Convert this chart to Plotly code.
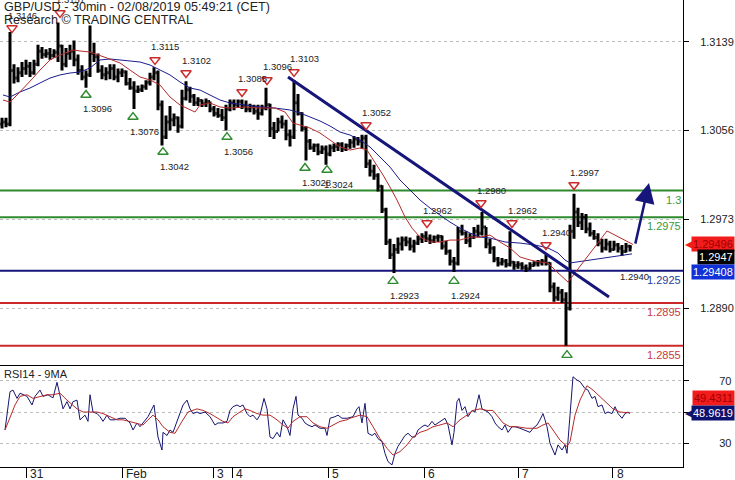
import plotly.graph_objects as go

# ---------------- data ----------------
# hourly bars, index = hours from chart start
bar_index = list(range(158))
opens = [1.3062, 1.3064, 1.3062, 1.3112, 1.3105, 1.3110, 1.3114, 1.3116, 1.3110, 1.3118,
         1.3130, 1.3127, 1.3128, 1.3126, 1.3129, 1.3135, 1.3118, 1.3128, 1.3130, 1.3122,
         1.3112, 1.3106, 1.3108, 1.3128, 1.3125, 1.3112, 1.3108, 1.3110, 1.3114, 1.3106,
         1.3110, 1.3111, 1.3100, 1.3096, 1.3093, 1.3094, 1.3097, 1.3101, 1.3106, 1.3110,
         1.3080, 1.3050, 1.3064, 1.3066, 1.3068, 1.3060, 1.3086, 1.3094, 1.3088, 1.3082,
         1.3084, 1.3081, 1.3083, 1.3076, 1.3072, 1.3070, 1.3068, 1.3076, 1.3082, 1.3080,
         1.3083, 1.3079, 1.3076, 1.3078, 1.3074, 1.3072, 1.3077, 1.3080, 1.3058, 1.3055,
         1.3064, 1.3062, 1.3052, 1.3050, 1.3082, 1.3072, 1.3058, 1.3046, 1.3040, 1.3042,
         1.3036, 1.3039, 1.3034, 1.3040, 1.3041, 1.3043, 1.3039, 1.3042, 1.3045, 1.3048,
         1.3046, 1.3049, 1.3025, 1.3018, 1.3014, 1.3004, 1.2982, 1.2952, 1.2940, 1.2945,
         1.2950, 1.2954, 1.2952, 1.2948, 1.2951, 1.2955, 1.2957, 1.2955, 1.2953, 1.2956,
         1.2957, 1.2948, 1.2943, 1.2934, 1.2932, 1.2962, 1.2960, 1.2953, 1.2956, 1.2962,
         1.2960, 1.2966, 1.2950, 1.2946, 1.2936, 1.2932, 1.2934, 1.2931, 1.2933, 1.2930,
         1.2931, 1.2928, 1.2927, 1.2930, 1.2932, 1.2933, 1.2934, 1.2932, 1.2910, 1.2900,
         1.2905, 1.2898, 1.2890, 1.2962, 1.2980, 1.2970, 1.2975, 1.2964, 1.2960, 1.2956,
         1.2951, 1.2946, 1.2950, 1.2945, 1.2949, 1.2946, 1.2943, 1.2948]
highs = [1.3068, 1.3068, 1.3148, 1.3118, 1.3115, 1.3120, 1.3122, 1.3120, 1.3122, 1.3136,
         1.3134, 1.3132, 1.3133, 1.3132, 1.3157, 1.3136, 1.3133, 1.3136, 1.3140, 1.3127,
         1.3117, 1.3112, 1.3154, 1.3138, 1.3128, 1.3117, 1.3115, 1.3118, 1.3118, 1.3114,
         1.3114, 1.3112, 1.3105, 1.3102, 1.3098, 1.3099, 1.3103, 1.3110, 1.3115, 1.3112,
         1.3084, 1.3070, 1.3079, 1.3072, 1.3069, 1.3094, 1.3102, 1.3097, 1.3090, 1.3087,
         1.3085, 1.3086, 1.3083, 1.3079, 1.3077, 1.3076, 1.3080, 1.3085, 1.3085, 1.3085,
         1.3085, 1.3084, 1.3081, 1.3080, 1.3080, 1.3080, 1.3096, 1.3081, 1.3064, 1.3068,
         1.3070, 1.3066, 1.3057, 1.3103, 1.3090, 1.3073, 1.3060, 1.3048, 1.3044, 1.3044,
         1.3042, 1.3042, 1.3043, 1.3044, 1.3045, 1.3045, 1.3044, 1.3048, 1.3051, 1.3050,
         1.3052, 1.3052, 1.3029, 1.3024, 1.3016, 1.3005, 1.2984, 1.2955, 1.2950, 1.2956,
         1.2957, 1.2957, 1.2956, 1.2954, 1.2958, 1.2960, 1.2962, 1.2959, 1.2958, 1.2959,
         1.2958, 1.2953, 1.2945, 1.2938, 1.2966, 1.2968, 1.2962, 1.2960, 1.2966, 1.2968,
         1.2980, 1.2966, 1.2955, 1.2948, 1.2938, 1.2937, 1.2936, 1.2962, 1.2934, 1.2934,
         1.2933, 1.2931, 1.2933, 1.2934, 1.2935, 1.2936, 1.2940, 1.2933, 1.2914, 1.2910,
         1.2908, 1.2905, 1.2968, 1.2997, 1.2984, 1.2979, 1.2978, 1.2970, 1.2963, 1.2960,
         1.2955, 1.2955, 1.2953, 1.2953, 1.2951, 1.2949, 1.2951, 1.2949]
lows = [1.3058, 1.3059, 1.3060, 1.3100, 1.3101, 1.3106, 1.3108, 1.3106, 1.3108, 1.3116,
        1.3123, 1.3124, 1.3122, 1.3124, 1.3120, 1.3112, 1.3115, 1.3122, 1.3116, 1.3108,
        1.3103, 1.3096, 1.3106, 1.3120, 1.3110, 1.3104, 1.3103, 1.3104, 1.3103, 1.3101,
        1.3106, 1.3098, 1.3094, 1.3076, 1.3091, 1.3092, 1.3094, 1.3098, 1.3103, 1.3075,
        1.3042, 1.3048, 1.3056, 1.3060, 1.3054, 1.3058, 1.3084, 1.3082, 1.3079, 1.3079,
        1.3078, 1.3078, 1.3073, 1.3069, 1.3068, 1.3065, 1.3056, 1.3074, 1.3075, 1.3077,
        1.3076, 1.3073, 1.3073, 1.3071, 1.3066, 1.3070, 1.3075, 1.3050, 1.3048, 1.3055,
        1.3058, 1.3047, 1.3041, 1.3048, 1.3070, 1.3055, 1.3028, 1.3038, 1.3036, 1.3033,
        1.3034, 1.3024, 1.3032, 1.3036, 1.3037, 1.3036, 1.3037, 1.3039, 1.3040, 1.3042,
        1.3039, 1.3021, 1.3013, 1.3010, 1.2999, 1.2979, 1.2949, 1.2936, 1.2923, 1.2941,
        1.2944, 1.2948, 1.2944, 1.2942, 1.2949, 1.2951, 1.2952, 1.2950, 1.2951, 1.2952,
        1.2945, 1.2940, 1.2930, 1.2924, 1.2930, 1.2958, 1.2950, 1.2947, 1.2955, 1.2956,
        1.2958, 1.2946, 1.2941, 1.2933, 1.2929, 1.2930, 1.2928, 1.2929, 1.2926, 1.2927,
        1.2926, 1.2924, 1.2926, 1.2929, 1.2929, 1.2930, 1.2930, 1.2905, 1.2896, 1.2897,
        1.2895, 1.2855, 1.2888, 1.2955, 1.2966, 1.2963, 1.2960, 1.2957, 1.2954, 1.2948,
        1.2942, 1.2944, 1.2942, 1.2944, 1.2942, 1.2939, 1.2942, 1.2943]
closes = [1.3064, 1.3062, 1.3112, 1.3105, 1.3110, 1.3114, 1.3116, 1.3110, 1.3118, 1.3130,
          1.3127, 1.3128, 1.3126, 1.3129, 1.3135, 1.3118, 1.3128, 1.3130, 1.3122, 1.3112,
          1.3106, 1.3108, 1.3128, 1.3125, 1.3112, 1.3108, 1.3110, 1.3114, 1.3106, 1.3110,
          1.3111, 1.3100, 1.3096, 1.3093, 1.3094, 1.3097, 1.3101, 1.3106, 1.3110, 1.3080,
          1.3050, 1.3064, 1.3066, 1.3068, 1.3060, 1.3086, 1.3094, 1.3088, 1.3082, 1.3084,
          1.3081, 1.3083, 1.3076, 1.3072, 1.3070, 1.3068, 1.3076, 1.3082, 1.3080, 1.3083,
          1.3079, 1.3076, 1.3078, 1.3074, 1.3072, 1.3077, 1.3080, 1.3058, 1.3055, 1.3064,
          1.3062, 1.3052, 1.3050, 1.3082, 1.3072, 1.3058, 1.3046, 1.3040, 1.3042, 1.3036,
          1.3039, 1.3034, 1.3040, 1.3041, 1.3043, 1.3039, 1.3042, 1.3045, 1.3048, 1.3046,
          1.3049, 1.3025, 1.3018, 1.3014, 1.3004, 1.2982, 1.2952, 1.2940, 1.2945, 1.2950,
          1.2954, 1.2952, 1.2948, 1.2951, 1.2955, 1.2957, 1.2955, 1.2953, 1.2956, 1.2957,
          1.2948, 1.2943, 1.2934, 1.2932, 1.2962, 1.2960, 1.2953, 1.2956, 1.2962, 1.2960,
          1.2966, 1.2950, 1.2946, 1.2936, 1.2932, 1.2934, 1.2931, 1.2933, 1.2930, 1.2931,
          1.2928, 1.2927, 1.2930, 1.2932, 1.2933, 1.2934, 1.2932, 1.2910, 1.2900, 1.2905,
          1.2898, 1.2890, 1.2962, 1.2980, 1.2970, 1.2975, 1.2964, 1.2960, 1.2956, 1.2951,
          1.2946, 1.2950, 1.2945, 1.2949, 1.2946, 1.2943, 1.2948, 1.2947]

# moving averages (hour position, price)
ma_fast_pts = [(0.25, 1.30845), (2, 1.30826), (3.75, 1.30892), (6.25, 1.30985), (7.75, 1.31050),
               (9.5, 1.31125), (12, 1.31219), (14.5, 1.31265), (17.75, 1.31312), (19.5, 1.31303),
               (22, 1.31293), (26.25, 1.31237), (29.5, 1.31191), (32, 1.31125), (34.5, 1.31060),
               (37, 1.31032), (39.5, 1.30985), (42, 1.30873), (44.5, 1.30798), (48.25, 1.30733),
               (49.5, 1.30798), (52, 1.30817), (54.5, 1.30780), (57, 1.30770), (60.75, 1.30780),
               (64.5, 1.30770), (68.25, 1.30770), (70.75, 1.30733), (72.75, 1.30630), (74.5, 1.30611),
               (77, 1.30583), (79.5, 1.30537), (82, 1.30471), (84.5, 1.30406), (87, 1.30378),
               (89.5, 1.30397), (91.25, 1.30378), (93.25, 1.30266), (95.25, 1.30145), (97, 1.30032),
               (98.75, 1.29911), (100.75, 1.29752), (102.5, 1.29649), (104.5, 1.29565), (107, 1.29519),
               (109.5, 1.29519), (112, 1.29537), (114.5, 1.29537), (117, 1.29565), (119.5, 1.29565),
               (122, 1.29584), (124.5, 1.29519), (127, 1.29463), (129.5, 1.29379), (132, 1.29351),
               (134.5, 1.29332), (136.5, 1.29323), (138.25, 1.29257), (140, 1.29192), (141.5, 1.29145),
               (151.25, 1.29622), (157.75, 1.29496)]
ma_slow_pts = [(0.25, 1.30892), (2, 1.30873), (4.5, 1.30920), (7, 1.30957), (9.5, 1.31004),
               (12, 1.31050), (14.5, 1.31079), (17, 1.31097), (19.5, 1.31107), (22, 1.31144),
               (24.5, 1.31219), (27, 1.31228), (29.5, 1.31219), (32, 1.31209), (34.5, 1.31200),
               (37, 1.31172), (39.5, 1.31125), (42, 1.31079), (44.5, 1.31013), (47, 1.30957),
               (49.5, 1.30938), (52, 1.30892), (54.5, 1.30845), (57, 1.30817), (60.75, 1.30798),
               (64.5, 1.30780), (68.25, 1.30770), (72, 1.30752), (74.5, 1.30724), (77, 1.30686),
               (79.5, 1.30649), (82, 1.30602), (84.5, 1.30546), (87, 1.30518), (89.5, 1.30471),
               (92, 1.30406), (94.5, 1.30312), (97, 1.30219), (99.5, 1.30098), (102, 1.30004),
               (104.5, 1.29911), (107, 1.29836), (109.5, 1.29771), (112, 1.29705), (114.5, 1.29649),
               (117, 1.29603), (119.5, 1.29565), (122, 1.29556), (125.75, 1.29519), (129.5, 1.29509),
               (133.25, 1.29491), (136.5, 1.29463), (139, 1.29416), (140.75, 1.29351), (142, 1.29323),
               (157.5, 1.29408)]

# RSI14 and its 9MA (hour position, value)
rsi_pts = [(0.75, 38.5), (2, 63), (2.75, 64), (3.75, 58.7), (4.5, 62), (5.25, 61), (6.25, 60),
           (7.5, 54.5), (8.25, 60), (9.5, 64), (10.25, 60), (11.5, 61), (12.75, 59), (13.75, 69),
           (14.5, 61), (15.25, 52), (16.25, 56.6), (17, 52), (17.75, 56.6), (18.75, 57.6), (19.5, 45),
           (20.75, 48), (21.5, 44), (22, 61), (22.75, 50), (23.75, 49), (24.5, 47), (25.25, 44),
           (26.25, 48), (27, 45), (28.25, 45), (29.5, 46), (30.75, 46), (32, 43), (32.75, 38.5),
           (33.75, 43), (34.5, 40.6), (35.25, 43), (36.5, 47), (37.5, 52), (38, 54.5), (38.5, 44),
           (39, 34), (40, 25.7), (40.25, 37), (41.25, 35), (42, 38.5), (42.75, 37), (43.75, 44),
           (44.5, 50), (45.25, 54.5), (46.25, 57.6), (47, 52), (47.75, 49), (48.75, 50), (49.5, 49),
           (50.75, 50), (52, 47), (53.25, 41.7), (54, 43), (55.25, 43), (56.25, 44), (57, 51),
           (57.75, 53.4), (58.75, 54.5), (59.5, 53.4), (60.25, 54.5), (61.25, 49), (62, 47),
           (62.75, 48), (63.75, 45), (64.5, 48), (65.5, 58.7), (66.25, 52), (67, 34), (67.75, 33),
           (68.75, 37), (69.5, 34), (70.25, 45), (71.25, 40.6), (72, 35), (72.75, 52), (73.5, 60),
           (74, 48), (75, 46), (75.75, 43), (76.5, 41.7), (77.5, 40.6), (78.25, 41.7), (79.5, 39.6),
           (80.75, 39.6), (81.25, 35), (82, 46), (83.25, 47), (84, 48), (85, 46), (86.25, 46),
           (87.75, 47), (88.75, 52), (89.25, 53.4), (90, 43), (90.75, 55.5), (91.25, 43), (91.5, 36.4),
           (92.5, 35), (93.25, 36.4), (94, 33), (95, 31), (95.75, 23.6), (96.5, 18.3), (97.5, 16.2),
           (98.25, 23.6), (99, 28), (100, 32), (100.75, 35), (101.5, 36.4), (102.5, 34), (103.25, 34),
           (104, 38.5), (105, 40.6), (105.75, 41.7), (106.5, 40.6), (107.5, 44), (108.25, 41.7),
           (109, 43), (110, 45), (110.75, 46), (111.5, 41.7), (112.5, 29), (113, 37), (113.75, 56.6),
           (114.25, 58.7), (115, 51), (115.75, 53.4), (116.5, 47), (117.5, 51), (118.25, 50),
           (119.25, 61), (120, 52), (120.75, 51), (121.5, 50), (122.5, 47), (123.25, 43), (124, 40.6),
           (125, 38.5), (125.75, 41.7), (126.5, 37), (127.5, 40.6), (128.25, 40.6), (129.5, 39.6),
           (130.75, 38.5), (132, 37), (132.75, 39.6), (133.75, 41.7), (134.5, 45), (135.25, 49),
           (135.75, 45), (136.25, 40.6), (137, 30), (137.75, 25.7), (138.25, 22.5), (139, 29),
           (140, 25.7), (140.75, 29), (141.25, 23.6), (142, 48), (142.75, 72.5), (143.75, 70.4),
           (144.5, 69.4), (145.75, 65), (146.5, 64), (147.5, 58.7), (148.25, 60), (149, 53.4),
           (150, 54.5), (150.75, 49), (151.5, 50), (152.5, 49), (153.25, 53.4), (154, 49), (155, 46),
           (155.75, 49), (156.5, 50), (157, 48.96)]
rsi_ma_pts = [(0.75, 38.5), (2, 46), (3.25, 54.5), (4.5, 60), (6.25, 61), (7.75, 58.7), (9.5, 60),
              (11.25, 61), (12.75, 61), (14.5, 62), (16.25, 57.6), (17.5, 54.5), (18.75, 52),
              (20.25, 50), (22, 50), (23.75, 50), (25.25, 49), (27, 47), (28.75, 45), (30.25, 45),
              (32, 44), (33.75, 43), (35.25, 41.7), (36.5, 45), (37.75, 48), (39, 45), (40.25, 40.6),
              (42, 37), (43.25, 36.4), (45, 44), (46.5, 50), (48.75, 52), (50.25, 51), (52, 49),
              (53.75, 46), (55.25, 44), (56.5, 43), (57.75, 47), (59.5, 50), (60.75, 52), (62, 51),
              (63.75, 49), (65.25, 48), (67, 48), (68.75, 45), (70.25, 41.7), (71.5, 39.6),
              (72.75, 44), (74.5, 47), (76.25, 47), (77.75, 43), (79.5, 40.6), (81.25, 39.6),
              (82.75, 41.7), (84.5, 44), (86.25, 45), (87, 46), (89.5, 48), (91.25, 47), (92.75, 40.6),
              (94.5, 33), (96.25, 26.8), (97.75, 22.5), (99.5, 24.7), (101.25, 29), (102.75, 34),
              (104.5, 37), (106.25, 38.5), (107.75, 40.6), (109.5, 41.7), (111.25, 43), (112.75, 40.6),
              (114.5, 45), (116.25, 48), (117.75, 51), (119.5, 52), (121.25, 51), (122.75, 51),
              (124, 47), (125.25, 43), (127, 40.6), (128.75, 40.6), (131.25, 39.6), (133.75, 39.6),
              (135.25, 41.7), (136.5, 43), (137.75, 38.5), (139.5, 32), (141.25, 28), (142, 31),
              (143.25, 48), (144.5, 57.6), (146.25, 66.8), (147.75, 64), (149.5, 59.8), (151.25, 55.5),
              (152.75, 52), (154.5, 50), (156.25, 49.6), (157, 49.43)]

# day boundaries on the time axis
day_ticks = [6, 30, 52.75, 57.5, 81.5, 105.5, 129, 152.65]
day_labels = ["31", "Feb", "3", "4", "5", "6", "7", "8"]

price_ticks = [1.2890, 1.2973, 1.3056, 1.3139]
rsi_ticks = [30, 50, 70]
rsi_tick_labels = ["30", "", "70"]

# support / resistance levels
levels = [1.3000, 1.2975, 1.2925, 1.2895, 1.2855]
level_labels = ["1.3", "1.2975", "1.2925", "1.2895", "1.2855"]

# trend line (start, end) and projection arrow
trend_x = [71.5, 151.75]
trend_y = [1.3106, 1.29005]
arrow_x = [158.25, 161.75]
arrow_y = [1.2949, 1.3007]
support_x, support_y, support_text = 158, 1.2920, "1.2940"

# pivot highs / lows: marker position and label
peak_x = [2.5, 14.5, 38.25, 46, 60, 66.25, 73, 91, 106.25, 119.75, 127.5, 136, 143]
peak_y = [1.31517, 1.31658, 1.31219, 1.31097, 1.30920, 1.31032, 1.31107, 1.30611,
          1.29696, 1.29883, 1.29696, 1.29491, 1.30051]
peak_text = ["1.3146", "1.3157", "1.3115", "1.3102", "1.3085", "1.3096", "1.3103", "1.3052",
             "1.2962", "1.2980", "1.2962", "1.2940", "1.2997"]
trough_x = [21, 32.75, 40.25, 56.25, 75.75, 81.25, 97.75, 113, 141.25]
trough_y = [1.30892, 1.30686, 1.30359, 1.30499, 1.30210, 1.30191, 1.29154, 1.29154, 1.28463]
trough_text = ["1.3096", "1.3076", "1.3042", "1.3056", "1.3028", "1.3024", "1.2923", "1.2924", ""]

# last values
last_ma_fast, last_price, last_ma_slow = 1.29496, 1.2947, 1.29408
last_rsi_ma, last_rsi = 49.4311, 48.9619

# ---------------- styling ----------------
FONT = "Liberation Sans, Arial, sans-serif"
GREEN = "#2e8a2e"
RED = "#cc2a2a"
NAVY = "#15157a"
BLUE_MA = "#1c1c8e"
RED_MA = "#b52a2a"
level_colors = [GREEN, GREEN, NAVY, RED, RED]
level_text_colors = ["#3a9a3a", "#3a9a3a", "#2a3a9a", "#c83a3a", "#c83a3a"]

MAIN_BOTTOM = 101 / 467.0
X_RANGE = [-0.5, 170.25]

fig = go.Figure()

fig.add_trace(go.Ohlc(
    x=bar_index, open=opens, high=highs, low=lows, close=closes,
    increasing=dict(line=dict(color="black", width=3)),
    decreasing=dict(line=dict(color="black", width=3)),
    tickwidth=0.45, hoverinfo="skip", xaxis="x", yaxis="y"))

fig.add_trace(go.Scatter(x=[p[0] for p in ma_slow_pts], y=[p[1] for p in ma_slow_pts],
                         mode="lines", line=dict(color=BLUE_MA, width=1), xaxis="x", yaxis="y"))
fig.add_trace(go.Scatter(x=[p[0] for p in ma_fast_pts], y=[p[1] for p in ma_fast_pts],
                         mode="lines", line=dict(color=RED_MA, width=1), xaxis="x", yaxis="y"))

fig.add_trace(go.Scatter(x=trend_x, y=trend_y, mode="lines",
                         line=dict(color=NAVY, width=3), xaxis="x", yaxis="y"))

fig.add_trace(go.Scatter(x=peak_x, y=peak_y, mode="markers",
                         marker=dict(symbol="triangle-down-open", size=9,
                                     color=RED, line=dict(color=RED, width=1.4)),
                         xaxis="x", yaxis="y"))
fig.add_trace(go.Scatter(x=trough_x, y=trough_y, mode="markers",
                         marker=dict(symbol="triangle-up-open", size=9,
                                     color=GREEN, line=dict(color=GREEN, width=1.4)),
                         xaxis="x", yaxis="y"))

fig.add_trace(go.Scatter(x=[p[0] for p in rsi_pts], y=[p[1] for p in rsi_pts], mode="lines",
                         line=dict(color="#161670", width=1), xaxis="x2", yaxis="y2"))
fig.add_trace(go.Scatter(x=[p[0] for p in rsi_ma_pts], y=[p[1] for p in rsi_ma_pts], mode="lines",
                         line=dict(color=RED_MA, width=1), xaxis="x2", yaxis="y2"))

shapes = []
for lv, col in zip(levels, level_colors):
    shapes.append(dict(type="line", xref="x domain", yref="y", x0=0, x1=1, y0=lv, y1=lv,
                       line=dict(color=col, width=2), layer="below"))

ann = []
# title
ann.append(dict(xref="paper", yref="paper", x=0, y=1, xshift=2, yshift=-7, xanchor="left",
                yanchor="middle", showarrow=False,
                text="GBP/USD - 30min - 02/08/2019 05:49:21 (CET)",
                font=dict(size=12.6, color="#222")))
ann.append(dict(xref="paper", yref="paper", x=0, y=1, xshift=2, yshift=-20, xanchor="left",
                yanchor="middle", showarrow=False, text="Research © TRADING CENTRAL",
                font=dict(size=12.6, color="#222")))
ann.append(dict(xref="paper", yref="paper", x=0, y=MAIN_BOTTOM, xshift=2, yshift=-8,
                xanchor="left", yanchor="middle", showarrow=False, text="RSI14 - 9MA",
                font=dict(size=11, color="#222")))

# level labels
for lv, txt, col in zip(levels, level_labels, level_text_colors):
    ann.append(dict(xref="x domain", yref="y", x=1, y=lv, xanchor="right", yanchor="top",
                    yshift=-1, showarrow=False, text=txt, font=dict(size=11, color=col)))

# pivot labels
for x, y, t in zip(peak_x, peak_y, peak_text):
    ann.append(dict(xref="x", yref="y", x=x, y=y, xshift=10, yshift=13, showarrow=False,
                    text=t, font=dict(size=9.5, color="#222")))
for x, y, t in zip(trough_x, trough_y, trough_text):
    if t:
        ann.append(dict(xref="x", yref="y", x=x, y=y, xshift=11, yshift=-14, showarrow=False,
                        text=t, font=dict(size=9.5, color="#222")))

ann.append(dict(xref="x", yref="y", x=support_x, y=support_y, showarrow=False,
                text=support_text, font=dict(size=9.5, color="#222")))

# projection arrow
ann.append(dict(xref="x", yref="y", axref="x", ayref="y", x=arrow_x[1], y=arrow_y[1],
                ax=arrow_x[0], ay=arrow_y[0], text="", showarrow=True, arrowhead=2,
                arrowsize=1.6, arrowwidth=2.5, arrowcolor=NAVY, standoff=0))

# day labels
for tv, tl in zip(day_ticks, day_labels):
    ann.append(dict(xref="x2", yref="paper", x=tv, y=0, xanchor="left", yanchor="top",
                    xshift=2, yshift=2, showarrow=False, text=tl,
                    font=dict(size=12, color="#222")))

# last-value boxes on the right axis
def box(y, yref, text, bg, fg, yshift, arrow_col=None):
    if arrow_col:
        ann.append(dict(xref="paper", yref=yref, x=1, y=y, xanchor="left", yanchor="middle",
                        xshift=0, yshift=yshift, showarrow=False, text="◀",
                        font=dict(size=12, color=arrow_col, family="DejaVu Sans")))
    ann.append(dict(xref="paper", yref=yref, x=1, y=y, xanchor="right", yanchor="middle",
                    xshift=52, yshift=yshift, showarrow=False, text=text, bgcolor=bg,
                    borderpad=1, font=dict(size=11, color=fg)))

box(last_ma_fast, "y", f"{last_ma_fast:.5f}", "#f21c1c", "#a00000", 0, "#f21c1c")
box(last_price, "y", f"{last_price:.4f}", "#000000", "#ffffff", -10)
box(last_ma_slow, "y", f"{last_ma_slow:.5f}", "#1030d8", "#ffffff", -18)
box(last_rsi_ma, "y2", f"{last_rsi_ma:.4f}", "#f21c1c", "#a00000", 15)
box(last_rsi, "y2", f"{last_rsi:.4f}", "#0c126e", "#ffffff", 1, "#0c126e")

fig.update_layout(
    width=735, height=480,
    margin=dict(l=0, r=52, t=0, b=13),
    paper_bgcolor="white", plot_bgcolor="white", showlegend=False,
    font=dict(family=FONT, size=11, color="#222"),
    shapes=shapes, annotations=ann,
    xaxis=dict(domain=[0, 1], range=X_RANGE, anchor="y", showticklabels=False, showgrid=False,
               zeroline=False, showline=False, ticks="", rangeslider=dict(visible=False)),
    yaxis=dict(domain=[MAIN_BOTTOM, 1], range=[1.28361, 1.31779], side="right",
               tickvals=price_ticks, ticktext=[f"{v:.4f}" for v in price_ticks],
               ticks="outside", ticklen=5, tickcolor="black", showline=True, linecolor="black",
               linewidth=1, showgrid=True, gridcolor="#bdbdbd", griddash="dot", gridwidth=1,
               zeroline=False, ticklabelstandoff=9, tickfont=dict(size=11, color="#222")),
    xaxis2=dict(domain=[0, 1], range=X_RANGE, anchor="y2", tickvals=day_ticks,
                showticklabels=False, ticks="outside", ticklen=10, tickcolor="black",
                showline=True, mirror=True, linecolor="black", linewidth=1,
                showgrid=False, zeroline=False),
    yaxis2=dict(domain=[0, MAIN_BOTTOM], range=[14.86, 79.39], side="right",
                tickvals=rsi_ticks, ticktext=rsi_tick_labels, ticks="outside", ticklen=5,
                tickcolor="black", showline=True, linecolor="black", linewidth=1,
                showgrid=True, gridcolor="#bdbdbd", griddash="dot", gridwidth=1,
                zeroline=False, ticklabelstandoff=28, tickfont=dict(size=11, color="#222")),
)

fig.write_html("out.html", config={"displayModeBar": False},
               post_script="document.body.style.margin='0';document.body.style.padding='0';"
                           "document.documentElement.style.overflow='hidden';")
